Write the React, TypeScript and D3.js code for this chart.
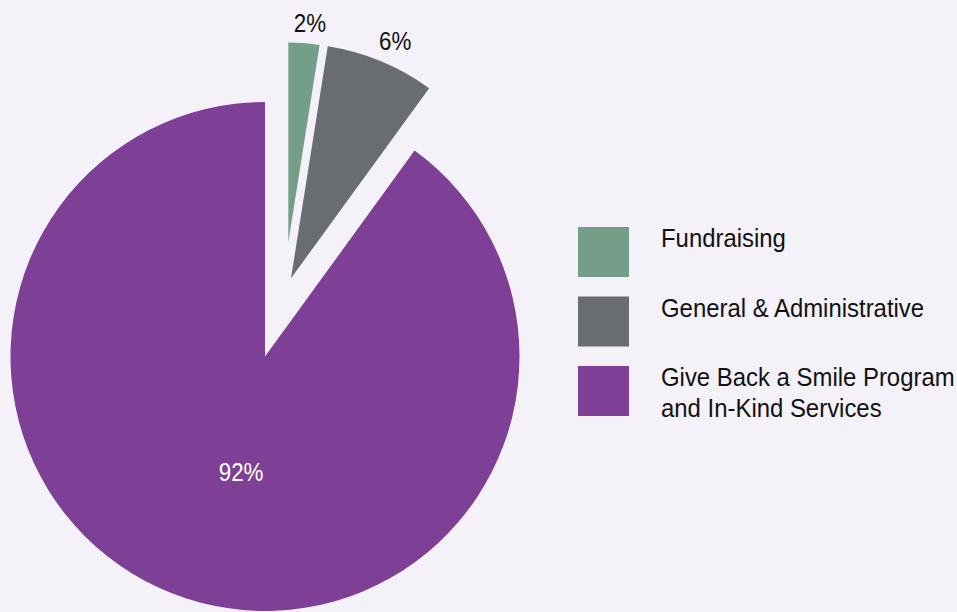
import React from "react";
import * as d3 from "d3";

const categories = ["Fundraising", "General & Administrative", "Give Back a Smile Program|and In-Kind Services"];
const values = [2.5, 7.5, 90];
const valueLabels = ["2%", "6%", "92%"];
const colors = ["#749e8a", "#696c71", "#7e3f97"];

const W = 957;
const H = 612;
const BG = "#f4f1f8";
const CX = 265;
const CY = 356.5;
// per-slice layout: explode offset, radius, label placement
const layout = [
  { dx: 23.3, dy: -114, r: 200, labR: 221, labA: 5.6, labColor: "#111" },
  { dx: 26, dy: -78.2, r: 235, labR: 259, labA: 23.7, labColor: "#111" },
  { dx: 0, dy: 0, r: 254.5, labR: 118, labA: 191.7, labColor: "#ffffff" },
];

const FONT = "'Liberation Sans', Arial, Helvetica, sans-serif";

export default function App() {
  const pie = d3
    .pie<number>()
    .sort(null)
    .startAngle(0)
    .endAngle(2 * Math.PI)
    .value((d) => d);
  const arcs = pie(values);

  const legendX = 578;
  const legendY0 = 227;
  const legendStep = 69.5;

  return (
    <svg
      width={W}
      height={H}
      style={{ position: "absolute", left: 0, top: 0, background: BG }}
    >
      <rect x={0} y={0} width={W} height={H} fill={BG} />
      {arcs.map((a, i) => {
        const L = layout[i];
        const arcGen = d3.arc<d3.PieArcDatum<number>>().innerRadius(0).outerRadius(L.r);
        const ang = (L.labA * Math.PI) / 180;
        const lx = CX + L.dx + L.labR * Math.sin(ang);
        const ly = CY + L.dy - L.labR * Math.cos(ang);
        return (
          <g key={i}>
            <path d={arcGen(a) || ""} fill={colors[i]} transform={`translate(${CX + L.dx},${CY + L.dy})`} />
            <text
              transform={`translate(${lx},${ly}) scale(0.86,1)`}
              textAnchor="middle"
              dominantBaseline="central"
              fontFamily={FONT}
              fontSize={26}
              fill={L.labColor}
            >
              {valueLabels[i]}
            </text>
          </g>
        );
      })}
      {categories.map((c, i) => {
        const y = legendY0 + i * legendStep;
        const lines = c.split("|");
        return (
          <g key={c}>
            <rect x={legendX} y={y} width={51} height={50} fill={colors[i]} />
            {lines.map((ln, j) => (
              <text
                key={j}
                transform={`translate(661,${y + 20 + j * 31}) scale(0.92,1)`}
                fontFamily={FONT}
                fontSize={26}
                fill="#111"
              >
                {ln}
              </text>
            ))}
          </g>
        );
      })}
    </svg>
  );
}
